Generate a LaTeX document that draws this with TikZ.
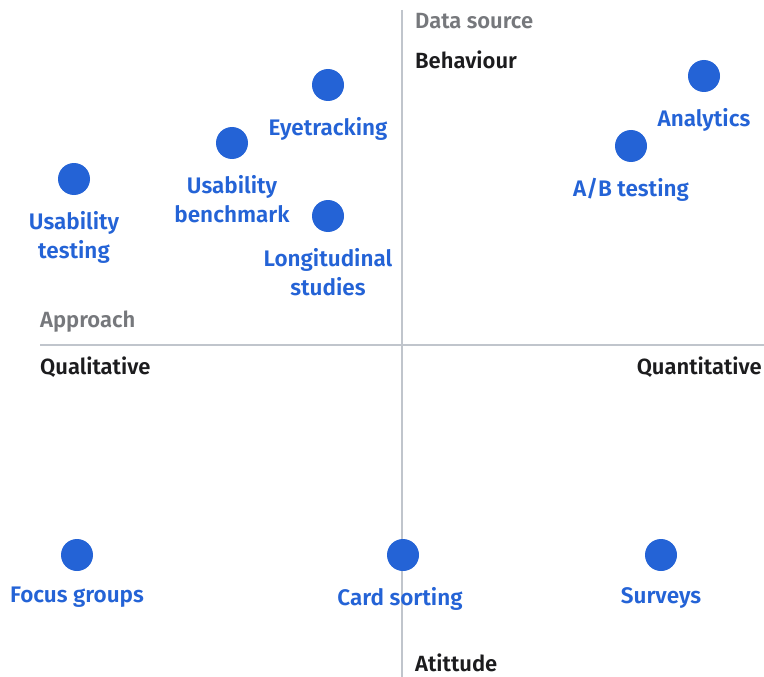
\documentclass[tikz,border=0pt]{standalone}
\usepackage{fontspec}
\setmainfont{Fira Sans}[UprightFont={* SemiBold}]
\usetikzlibrary{positioning}

\definecolor{dotblue}{RGB}{36,99,214}
\definecolor{axisgray}{RGB}{192,197,204}
\definecolor{headgray}{RGB}{118,120,124}
\definecolor{textblack}{RGB}{28,28,30}

\tikzset{
  dot/.style={circle,fill=dotblue,minimum size=32pt,inner sep=0pt},
  lbl/.style={text=dotblue,align=center,inner sep=0pt,font=\fontsize{22.5}{29}\selectfont},
  head/.style={text=headgray,inner sep=0pt,anchor=west,font=\fontsize{22}{24}\selectfont},
  pole/.style={text=textblack,inner sep=0pt,font=\fontsize{22}{24}\selectfont},
  axis/.style={draw=axisgray,line width=1.6pt}
}

\begin{document}
\begin{tikzpicture}[x=1pt,y=-1pt]
  \useasboundingbox (0,0) rectangle (764,677); %page size

  %Draw the two axes
  \coordinate (vtop) at (402,10);
  \coordinate (vbot) at (402,677);
  \coordinate (hleft) at (40,345);
  \coordinate (hright) at (764,345);
  \draw[axis] (vtop) -- (vbot) ; %Data source axis
  \draw[axis] (hleft) -- (hright) ; %Approach axis

  %Axis headings and poles
  \node[head] (dsrc) at (415,21) {Data source};
  \node[pole,anchor=west] (behav) at (415,60) {Behaviour};
  \node[head] (appr) at (40,322) {Approach};
  \node[pole,anchor=west] (qual) at (40,367) {Qualitative};
  \node[pole,anchor=east] (quant) at (762,367) {Quantitative};
  \node[pole,anchor=west] (atti) at (415,663) {Atittude};

  %Methods above the approach axis
  \node[dot] (eye) at (328,85) {};
  \node[lbl,below=16pt of eye] (eyel) {Eyetracking};
  \node[dot] (anal) at (704,76) {};
  \node[lbl,below=16pt of anal] (anall) {Analytics};
  \node[dot] (bench) at (232,143) {};
  \node[lbl,below=16pt of bench] (benchl) {Usability\\benchmark};
  \node[dot] (ab) at (631,146) {};
  \node[lbl,below=16pt of ab] (abl) {A/B testing};
  \node[dot] (utest) at (74,179) {};
  \node[lbl,below=16pt of utest] (utestl) {Usability\\testing};
  \node[dot] (long) at (328,216) {};
  \node[lbl,below=16pt of long] (longl) {Longitudinal\\studies};

  %Methods below the approach axis
  \node[dot] (focus) at (77,555) {};
  \node[lbl,below=16pt of focus] (focusl) {Focus groups};
  \node[dot] (card) at (403,555) {};
  \node[lbl,below=16pt of card,xshift=-3pt] (cardl) {Card sorting};
  \node[dot] (surv) at (661,555) {};
  \node[lbl,below=16pt of surv] (survl) {Surveys};
\end{tikzpicture}
\end{document}
